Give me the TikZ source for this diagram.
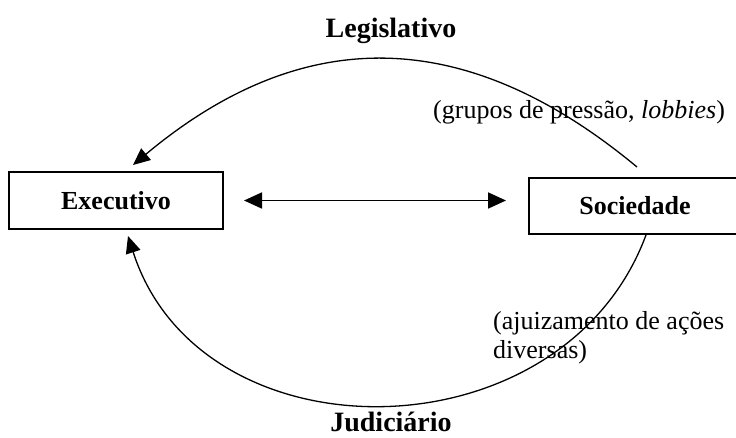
\documentclass[tikz,border=0pt]{standalone}
\usepackage{fontspec}
\setmainfont{Liberation Serif}
\usetikzlibrary{arrows.meta}
\begin{document}
\begin{tikzpicture}[x=1pt,y=-1pt,
 box/.style={draw,line width=2pt,inner sep=0pt,font=\fontsize{26}{30}\selectfont\bfseries},
 lbl/.style={inner sep=0pt,font=\fontsize{28}{32}\selectfont\bfseries},
 note/.style={inner sep=0pt,font=\fontsize{26}{30}\selectfont},
 tip/.style={-{Triangle[length=17pt,width=15pt]}},
 arcline/.style={line width=1.3pt}]
\useasboundingbox (0,0) rectangle (736,437);
\fill[white] (0,0) rectangle (736,437);
\node[box,minimum width=214pt,minimum height=57pt] (ex) at (116,200.5) {Executivo};
\node[box,minimum width=212pt,minimum height=56pt] (so) at (635,206) {Sociedade};
\draw[line width=1.8pt,{Triangle[length=18pt,width=16pt]}-{Triangle[length=18pt,width=16pt]}]
  ([xshift=20pt]ex.east) -- ([xshift=-22pt]ex.east -| so.west);
\draw[arcline,tip] ([shift={(2pt,10pt)}]so.north) .. controls (466,25) and (303,23) .. ([shift={(17pt,6pt)}]ex.north);
\draw[arcline,tip] ([xshift=11pt]so.south) .. controls (563,459) and (201,463) .. ([shift={(12pt,-6pt)}]ex.south);
\node[lbl,anchor=base] (leg) at (391,37) {Legislativo};
\node[lbl,anchor=base] (jud) at (391,431) {Judiciário};
\node[note,anchor=base west] (gp) at (433,118) {(grupos de pressão, \textit{lobbies})};
\node[note,anchor=base west] (aj1) at (493,329) {(ajuizamento de ações};
\node[note,anchor=base west] (aj2) at (493,358) {diversas)};
\end{tikzpicture}
\end{document}
